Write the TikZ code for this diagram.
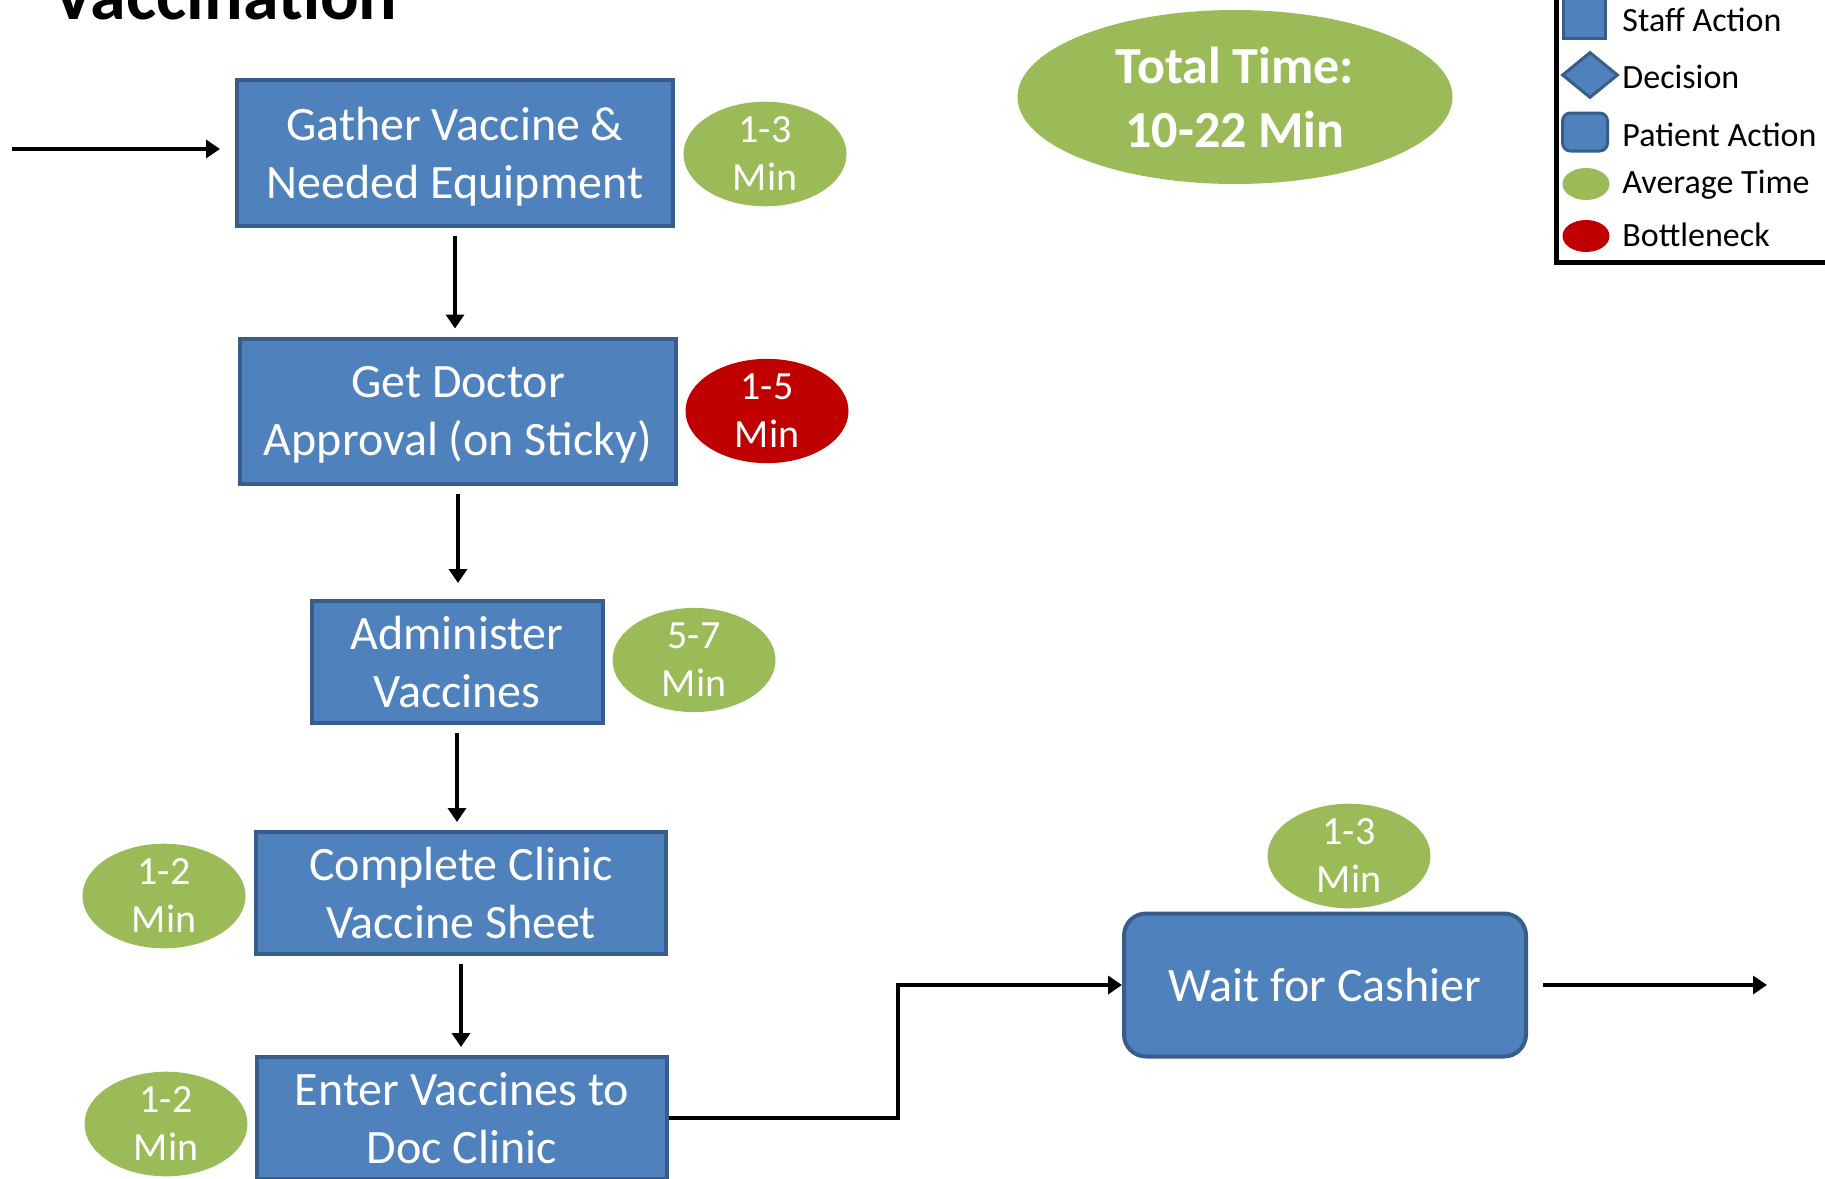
\documentclass[tikz,border=0pt]{standalone}
\usepackage{fontspec}
\setmainfont{Carlito}
\usetikzlibrary{shapes.geometric,arrows.meta}
\definecolor{boxblue}{HTML}{4F81BD}
\definecolor{boxedge}{HTML}{385D8A}
\definecolor{timegreen}{HTML}{9BBB59}
\definecolor{slowred}{HTML}{C00000}

\begin{document}
\begin{tikzpicture}[x=0.5pt,y=-0.5pt,
  stepbox/.style={rectangle,draw=boxedge,fill=boxblue,line width=2pt,text=white,
    align=center,inner sep=0pt,font=\fontsize{24}{29}\selectfont},
  waitbox/.style={stepbox,rounded corners=11pt},
  timeoval/.style={ellipse,fill=timegreen,text=white,align=center,inner sep=0pt,
    minimum width=81.5pt,minimum height=50pt,font=\fontsize{20}{24}\selectfont},
  slowoval/.style={timeoval,fill=slowred},
  flow/.style={-{Triangle[length=7pt,width=9pt]},line width=2pt,
    shorten <=4pt,shorten >=4pt},
  keytext/.style={anchor=west,inner sep=0pt,font=\fontsize{17}{20}\selectfont}]
\clip (0,0) rectangle (1825,1178);

% title, cut at the top edge
\node[anchor=base west,inner sep=0pt,font=\fontsize{36}{40}\selectfont\bfseries] (title) at (52,19) {Vaccination};

% steps
\node[stepbox,minimum width=218pt,minimum height=73pt,text depth=0pt] (gather) at (455,153) {Gather Vaccine \&\\Needed Equipment};
\node[stepbox,minimum width=218pt,minimum height=72.5pt,text depth=0pt] (approval) at (458,411) {Get Doctor\\Approval (on Sticky)};
\node[stepbox,minimum width=145.5pt,minimum height=61pt] (administer) at (457,662) {Administer\\Vaccines};
\node[stepbox,minimum width=205pt,minimum height=61pt] (complete) at (461,893) {Complete Clinic\\Vaccine Sheet};
\node[stepbox,minimum width=205pt,minimum height=61pt] (enter) at (462,1118) {Enter Vaccines to\\Doc Clinic};
\node[waitbox,minimum width=201pt,minimum height=71.5pt] (cashier) at (1325,985) {Wait for Cashier};

% times
\node[timeoval] (tgather) at (765,154) {1-3\\Min};
\node[slowoval] (tapproval) at (767,411) {1-5\\Min};
\node[timeoval] (tadminister) at (694,660) {5-7\\Min};
\node[timeoval] (tcomplete) at (164,896) {1-2\\Min};
\node[timeoval] (tenter) at (166,1124) {1-2\\Min};
\node[timeoval] (tcashier) at (1349,856) {1-3\\Min};
\node[timeoval,minimum width=217.5pt,minimum height=87pt,font=\fontsize{26}{32}\selectfont\bfseries] (total) at (1235,97) {Total Time:\\10-22 Min};

% connectors
\coordinate (in) at (12,149);
\coordinate (out) at (1767,985);
\draw[flow,shorten <=0pt,shorten >=7.5pt] (in) -- (in -| gather.west);
\draw[flow] (gather.south) -- (gather.south |- approval.north);
\draw[flow,shorten >=8pt] (approval.south) -- (approval.south |- administer.north);
\draw[flow] (administer.south) -- (administer.south |- complete.north);
\draw[flow] (complete.south) -- (complete.south |- enter.north);
\draw[flow,shorten <=0pt,shorten >=0pt] (enter.east) -- ++(229,0) |- (cashier.west);
\draw[flow,shorten <=7.5pt,shorten >=0pt] (cashier.east) -- (out);

% legend
\draw[line width=2.5pt] (1556,-10) |- (1840,262);
\node[rectangle,draw=boxedge,fill=boxblue,line width=1.5pt,inner sep=0pt,minimum width=21pt,minimum height=22pt] (kstaff) at (1584,16) {};
\node[diamond,draw=boxedge,fill=boxblue,line width=1.5pt,inner sep=0pt,minimum width=28pt,minimum height=23pt] (kdecision) at (1590,75) {};
\node[rectangle,rounded corners=4pt,draw=boxedge,fill=boxblue,line width=1.5pt,inner sep=0pt,minimum width=22.5pt,minimum height=19pt] (kpatient) at (1585,132) {};
\node[ellipse,fill=timegreen,inner sep=0pt,minimum width=23.5pt,minimum height=16pt] (kaverage) at (1586,184) {};
\node[ellipse,fill=slowred,inner sep=0pt,minimum width=23.5pt,minimum height=16pt] (kbottle) at (1586,236) {};
\node[keytext] (lstaff) at (1622,20) {Staff Action};
\node[keytext] (ldecision) at (1622,77) {Decision};
\node[keytext] (lpatient) at (1622,135) {Patient Action};
\node[keytext] (laverage) at (1622,185) {Average Time};
\node[keytext] (lbottle) at (1622,235) {Bottleneck};
\end{tikzpicture}
\end{document}
